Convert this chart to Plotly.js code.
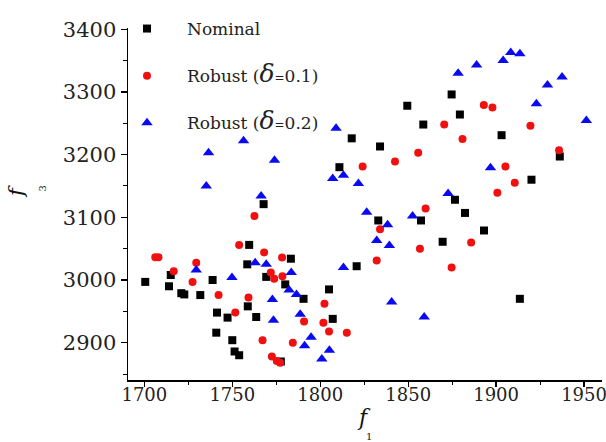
<!DOCTYPE html>
<html>
<head>
<meta charset="utf-8">
<script src="https://cdn.plot.ly/plotly-3.0.1.min.js"></script>
<style>
  html, body { margin: 0; padding: 0; background: #fff; }
  #chart { width: 606px; height: 442px; }
</style>
</head>
<body>
<div id="chart"></div>
<script>
// Nominal design points (f1, f3)
const nominalF1 = [1700.5, 1714, 1715, 1721, 1722.7, 1731.8, 1738.8, 1741.3, 1740.9, 1747.3,
  1750, 1751.3, 1753.9, 1758.8, 1758.5, 1759.6, 1763.6, 1767.8, 1769.3, 1780.1,
  1783.3, 1790.5, 1777.6, 1805, 1807.1, 1810.9, 1817.9, 1820.7, 1833, 1834,
  1849.5, 1857.3, 1858.6, 1869.6, 1874.7, 1876.6, 1879.4, 1882.3, 1893.1, 1903.1,
  1913.5, 1920.1, 1936.2];
const nominalF3 = [2997, 2990, 3008, 2979, 2977, 2976, 3000, 2948, 2916, 2940,
  2904, 2886, 2880, 2958, 3025, 3056, 2941, 3121, 3005, 2993,
  3034, 2970, 2870, 2985, 2938, 3180, 3226, 3022, 3095, 3213,
  3278, 3095, 3248, 3061, 3296, 3128, 3264, 3107, 3079, 3231,
  2970, 3160, 3197];

// Robust designs, delta = 0.1
const robust1F1 = [1706.2, 1708, 1716.7, 1729.5, 1727.4, 1742.2, 1751.7, 1753.9, 1759.2, 1762.6,
  1768.1, 1767.2, 1771.9, 1773.8, 1778.3, 1778.5, 1772.5, 1775.3, 1777.2, 1784.4,
  1790.8, 1802.4, 1801.8, 1805, 1815.1, 1824.1, 1834, 1832.1, 1842.5, 1855.7,
  1856.7, 1859.9, 1870.5, 1874.7, 1880.9, 1885.8, 1893, 1897.9, 1900.7, 1905.3,
  1910.6, 1919.5, 1935.8];
const robust1F3 = [3036.5, 3036.5, 3014, 3027.5, 2997, 2976, 2948, 3056, 2972, 3102,
  3044, 2904, 3012, 3002, 3036, 3006, 2878, 2871, 2868, 2900,
  2934, 2962, 2932, 2918, 2916, 3181, 3081, 3031, 3189, 3203,
  3050, 3114, 3248, 3020, 3225, 3060, 3279, 3275, 3139, 3181,
  3155, 3246, 3207];

// Robust designs, delta = 0.2
const robust2F1 = [1736.5, 1735.2, 1756.4, 1774, 1766.4, 1729.5, 1749.8, 1763, 1769.3, 1783.5,
  1772.8, 1782.3, 1786.5, 1773.4, 1788.6, 1794.8, 1791.1, 1800.9, 1805.2, 1809,
  1807.1, 1813.2, 1821.7, 1826.4, 1813.2, 1832.1, 1838.3, 1839.3, 1840.6, 1852.5,
  1859.1, 1872.7, 1878.4, 1888.9, 1896.8, 1904, 1908.3, 1913.5, 1922.9, 1929.2,
  1937.5, 1951.3];
const robust2F3 = [3203, 3150, 3222, 3191, 3134, 3016, 3004, 3027.5, 3025, 3012,
  2969, 2984, 2977, 2936, 2945.5, 2908.5, 2895, 2874, 2888, 3242,
  3162, 3167, 3154, 3108, 3020, 3063, 3088, 3055, 2965, 3102,
  2941, 3138, 3330, 3343, 3179, 3350, 3363, 3361, 3281, 3311,
  3324, 3254.5];

const seriesNames = [
  'Nominal',
  "Robust (<span style='font-size:25px'><i>δ</i></span><span style='font-size:12px'>=</span>0.1)",
  "Robust (<span style='font-size:25px'><i>δ</i></span><span style='font-size:12px'>=</span>0.2)"
];

const serif = '"DejaVu Serif", "Liberation Serif", serif';

const traces = [
  { x: nominalF1, y: nominalF3, name: seriesNames[0], legendgroup: 'a',
    marker: { symbol: 'square', size: 8, color: '#000000' } },
  { x: robust1F1, y: robust1F3, name: seriesNames[1], legendgroup: 'b',
    marker: { symbol: 'circle', size: 8, color: '#f01010' } },
  { x: robust2F1, y: robust2F3, name: seriesNames[2], legendgroup: 'c',
    marker: { symbol: 'triangle-up', size: 10, color: '#0a0af0' } }
].map(t => Object.assign({ type: 'scatter', mode: 'markers', cliponaxis: false }, t));

// plot area spans 128..602 px horizontally and 28..380 px vertically
const L = 128, R = 602, T = 28, B = 380;
const px = v => (v - L) / (R - L);
const py = v => (B - v) / (B - T);

const layout = {
  width: 606, height: 442,
  margin: { l: L, r: 606 - R, t: T, b: 442 - B, pad: 0, autoexpand: false },
  paper_bgcolor: '#ffffff', plot_bgcolor: '#ffffff',
  font: { family: serif, color: '#222222' },
  showlegend: true,
  legend: {
    x: px(107), y: py(11), xanchor: 'left', yanchor: 'top',
    itemwidth: 70,
    bgcolor: 'rgba(0,0,0,0)', borderwidth: 0,
    font: { family: serif, size: 17, color: '#222222' },
    tracegroupgap: 22, itemclick: false
  },
  xaxis: {
    range: [1690.7, 1960.2],
    tickvals: [1700, 1750, 1800, 1850, 1900, 1950],
    ticks: 'outside', ticklen: 5, tickwidth: 1.3, tickcolor: '#000',
    showline: true, linecolor: '#000', linewidth: 1.5,
    showgrid: false, zeroline: false,
    ticklabelstandoff: -7,
    ticklabeloverflow: 'allow',
    tickfont: { family: serif, size: 18, color: '#222' },
    minor: { dtick: 25, tick0: 1700, ticks: 'outside', ticklen: 3.5, tickwidth: 1, tickcolor: '#000', showgrid: false }
  },
  yaxis: {
    range: [2840.5, 3402],
    tickvals: [2900, 3000, 3100, 3200, 3300, 3400],
    ticks: 'outside', ticklen: 6, tickwidth: 1.3, tickcolor: '#000',
    showline: true, linecolor: '#000', linewidth: 1.5,
    showgrid: false, zeroline: false,
    ticklabelstandoff: 0,
    tickfont: { family: serif, size: 21, color: '#222' },
    minor: { dtick: 50, tick0: 2900, ticks: 'outside', ticklen: 3.5, tickwidth: 1, tickcolor: '#000', showgrid: false }
  },
  annotations: [
    { text: '<i>f</i>', xref: 'paper', yref: 'paper', x: px(364), y: py(403),
      yanchor: 'top', showarrow: false, font: { family: serif, size: 22, color: '#111' } },
    { text: '1', xref: 'paper', yref: 'paper', x: px(369), y: py(436),
      yanchor: 'middle', showarrow: false, font: { family: serif, size: 10, color: '#111' } },
    { text: '<i>f</i>', xref: 'paper', yref: 'paper', x: px(2), y: py(192),
      textangle: -90, showarrow: false, font: { family: serif, size: 21, color: '#111' } },
    { text: '3', xref: 'paper', yref: 'paper', x: px(34), y: py(189),
      textangle: -90, showarrow: false, font: { family: serif, size: 10, color: '#111' } }
  ]
};

Plotly.newPlot('chart', traces, layout, { displayModeBar: false, staticPlot: true });
</script>
</body>
</html>
